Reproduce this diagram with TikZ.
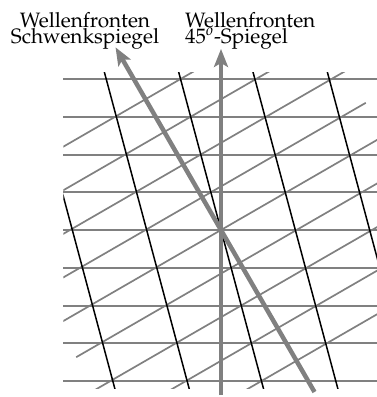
\documentclass[tikz,border=0pt]{standalone}
\usepackage[T1]{fontenc}
\usepackage{mathpazo}
\usetikzlibrary{arrows.meta}
\begin{document}
\begin{tikzpicture}[x=1pt,y=-1pt,
  wave/.style={draw=gray, line width=2pt},
  tiltwave/.style={draw=gray, line width=1.7pt},
  front/.style={draw=black, line width=1.5pt},
  beam/.style={draw=gray, line width=4.5pt, -{Stealth[length=18pt,width=14pt,inset=4pt]}},
  lbl/.style={inner sep=0pt, font=\fontsize{20.8}{16.3}\selectfont}
]
\useasboundingbox (0,0) rectangle (377,397);
\coordinate (c) at (221,230);
\foreach \k in {-4,...,4} \draw[wave] (63.3,230+\k*37.75) -- (377,230+\k*37.75);
\begin{scope}
  \clip (63.3,72) rectangle (377,388);
  \begin{scope}[shift={(c)}, rotate=30]
    \foreach \k in {-4,...,4} \draw[tiltwave] (-189,\k*37.75) -- (189,\k*37.75);
  \end{scope}
  \begin{scope}[shift={(c)}, rotate=15]
    \foreach \m in {-2,...,2} \draw[front] (\m*71.8,-400) -- (\m*71.8,400);
  \end{scope}
\end{scope}
\coordinate (vb) at (221,395);
\coordinate (vt) at (221,49);
\coordinate (sb) at (314.5,392);
\coordinate (st) at (115.5,47.3);
\draw[beam] (vb) -- (vt);
\draw[beam] (sb) -- (st);
\node[lbl, align=center, anchor=base] (l1) at (85,43.5) {Wellenfronten\\Schwenkspiegel};
\node[lbl, align=left, anchor=base west] (l2) at (185,43.5) {Wellenfronten\\45$^o$-Spiegel};
\end{tikzpicture}
\end{document}
